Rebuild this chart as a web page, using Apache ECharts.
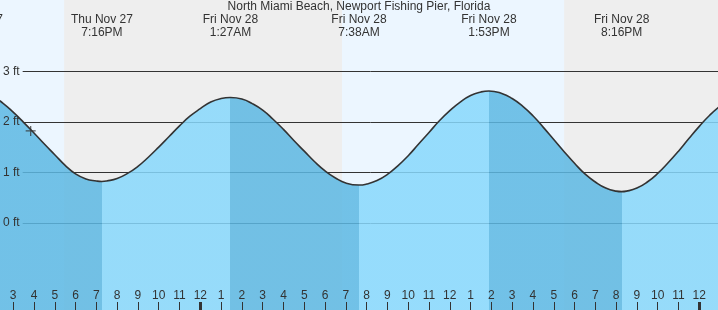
<!DOCTYPE html>
<html><head><meta charset="utf-8">
<script src="https://cdn.jsdelivr.net/npm/echarts@6/dist/echarts.min.js"></script>
<style>html,body{margin:0;padding:0;background:#ECF6FF;} #c{width:718px;height:310px;}</style>
</head><body><div id="c"></div>
<script>
const titleText = 'North Miami Beach, Newport Fishing Pier, Florida';
// hours relative to Fri Nov 28 00:00
const windowStart = -9.634, windowEnd = 24.9;
const feetMin = -1.719, feetMax = 4.407;
const curveHours = [-10.98, -10.5, -10, -9.5, -9, -8.5, -8, -7.5, -7, -6.5, -6, -5.5, -5, -4.733,
  -4.5, -4, -3.5, -3, -2.5, -2, -1.5, -1, -0.5, 0, 0.5, 1, 1.45,
  2, 2.5, 3, 3.5, 4, 4.5, 5, 5.5, 6, 6.5, 7, 7.633,
  8, 8.5, 9, 9.5, 10, 10.5, 11, 11.5, 12, 12.5, 13, 13.5, 13.883,
  14.5, 15, 15.5, 16, 16.5, 17, 17.5, 18, 18.5, 19, 19.5, 20, 20.267,
  20.5, 21, 21.5, 22, 22.5, 23, 23.5, 24, 24.5, 25, 25.5, 26];
const curveFeet = [2.62, 2.59, 2.51, 2.37, 2.19, 1.99, 1.78, 1.56, 1.35, 1.14, 0.97, 0.87, 0.83, 0.82,
  0.83, 0.88, 0.98, 1.12, 1.30, 1.50, 1.71, 1.92, 2.11, 2.26, 2.39, 2.46, 2.48,
  2.45, 2.36, 2.23, 2.05, 1.85, 1.63, 1.42, 1.21, 1.03, 0.89, 0.79, 0.75,
  0.77, 0.84, 0.96, 1.13, 1.33, 1.56, 1.79, 2.02, 2.22, 2.39, 2.52, 2.59, 2.61,
  2.56, 2.46, 2.31, 2.12, 1.89, 1.65, 1.41, 1.18, 0.97, 0.81, 0.69, 0.63, 0.62,
  0.63, 0.69, 0.81, 0.98, 1.19, 1.42, 1.67, 1.91, 2.13, 2.31, 2.45, 2.53];
const extremeHours = [-10.98, -4.733, 1.45, 7.633, 13.883, 20.267];
const extremeTypes = ['H', 'L', 'H', 'L', 'H', 'L'];
const extremeDates = ['Thu Nov 27', 'Thu Nov 27', 'Fri Nov 28', 'Fri Nov 28', 'Fri Nov 28', 'Fri Nov 28'];
const extremeTimes = ['1:01PM', '7:16PM', '1:27AM', '7:38AM', '1:53PM', '8:16PM'];
const nightStarts = [-6.55, 17.5];
const nightEnds = [6.817, 24.9];
const hourTicks = [-9,-8,-7,-6,-5,-4,-3,-2,-1,0,1,2,3,4,5,6,7,8,9,10,11,12,13,14,15,16,17,18,19,20,21,22,23,24];
const midnightTicks = [0, 24];
const feetTicks = [0, 1, 2, 3];
const nowHour = -8.158, nowFeet = 1.82;

const FONT = '"Liberation Sans", Arial, sans-serif';
const DAY = '#ECF6FF', NIGHT = '#EEEEEE';
const LIGHT = '#87D8FC', DARK = '#5CB8E3';

const data = curveHours.map((h, i) => [h, curveFeet[i]]);
const pieces = [];
let prev = null;
for (let i = 0; i < extremeHours.length; i++) {
  const p = {color: extremeTypes[i] === 'L' ? DARK : LIGHT, lt: extremeHours[i]};
  if (prev !== null) p.gte = prev;
  pieces.push(p);
  prev = extremeHours[i];
}
pieces.push({gte: prev, color: extremeTypes[extremeTypes.length - 1] === 'L' ? LIGHT : DARK});

const chart = echarts.init(document.getElementById('c'), null, {renderer: 'canvas'});
chart.setOption({
  animation: false,
  backgroundColor: DAY,
  textStyle: {fontFamily: FONT},
  title: {text: titleText, left: 'center', top: 0, padding: 0,
    textStyle: {fontSize: 12, fontWeight: 'normal', color: '#333', lineHeight: 14, fontFamily: FONT}},
  grid: [{left: 0, right: 0, top: 0, bottom: 0}, {left: 22, right: 0, top: 0, bottom: 0}],
  xAxis: [
    {gridIndex: 0, type: 'value', min: windowStart, max: windowEnd, z: 10, position: 'bottom',
      axisLine: {show: false, onZero: false}, splitLine: {show: false},
      axisTick: {show: true, customValues: hourTicks, inside: true, length: 8, lineStyle: {color: '#333', width: 1}},
      axisLabel: {show: true, customValues: hourTicks, inside: true, margin: 8, color: '#333', fontSize: 12, fontFamily: FONT,
        formatter: v => { const r = ((Math.round(v) % 12) + 12) % 12; return String(r === 0 ? 12 : r); }}},
    {gridIndex: 0, type: 'value', min: windowStart, max: windowEnd, position: 'bottom', offset: 0, z: 11,
      axisLine: {show: false, onZero: false}, splitLine: {show: false}, axisLabel: {show: false},
      axisTick: {show: true, customValues: midnightTicks, inside: true, length: 8, lineStyle: {color: '#333', width: 3}}},
    {gridIndex: 1, type: 'value', min: windowStart, max: windowEnd, show: false}
  ],
  yAxis: [
    {gridIndex: 0, type: 'value', min: feetMin, max: feetMax, show: false},
    {gridIndex: 1, type: 'value', min: feetMin, max: feetMax, z: 10,
      axisLine: {show: false}, axisTick: {show: false}, splitLine: {show: false},
      axisLabel: {show: true, customValues: feetTicks, margin: 3, color: '#333', fontSize: 12, fontFamily: FONT,
        formatter: v => v + ' ft'}}
  ],
  visualMap: {type: 'piecewise', show: false, dimension: 0, seriesIndex: 2, pieces: pieces},
  series: [
    {type: 'line', xAxisIndex: 0, yAxisIndex: 0, data: data, showSymbol: false, silent: true, z: 1,
      lineStyle: {opacity: 0},
      markArea: {silent: true, z: 1, itemStyle: {color: NIGHT},
        data: nightStarts.map((s, i) => [{xAxis: s}, {xAxis: nightEnds[i]}])}},
    {type: 'line', xAxisIndex: 2, yAxisIndex: 1, data: data, showSymbol: false, silent: true, z: 2,
      lineStyle: {opacity: 0},
      markLine: {silent: true, z: 2, symbol: 'none', label: {show: false},
        lineStyle: {color: '#333', width: 1, type: 'solid'},
        data: feetTicks.map(v => ({yAxis: v}))}},
    {type: 'line', xAxisIndex: 0, yAxisIndex: 0, data: data, smooth: true, showSymbol: false, z: 4,
      lineStyle: {width: 0}, areaStyle: {opacity: 0.85, origin: 'start'}},
    {type: 'line', xAxisIndex: 0, yAxisIndex: 0, data: data, smooth: true, showSymbol: false, z: 5,
      lineStyle: {color: '#333', width: 1.6}},
    {type: 'scatter', xAxisIndex: 0, yAxisIndex: 0, data: [[nowHour, nowFeet]], z: 6,
      symbol: 'path://M0,4.4H10V5.6H0Z M4.4,0H5.6V10H4.4Z', symbolSize: 10,
      itemStyle: {color: '#333'}}
  ]
});
chart.setOption({
  graphic: extremeHours.map((h, i) => ({
    type: 'text', z: 20,
    x: chart.convertToPixel({xAxisIndex: 0}, h), y: 13,
    style: {text: extremeDates[i] + '\n' + extremeTimes[i], align: 'center', verticalAlign: 'top',
      fontSize: 12, fontFamily: FONT, fill: '#333', lineHeight: 13}
  }))
});
</script></body></html>
